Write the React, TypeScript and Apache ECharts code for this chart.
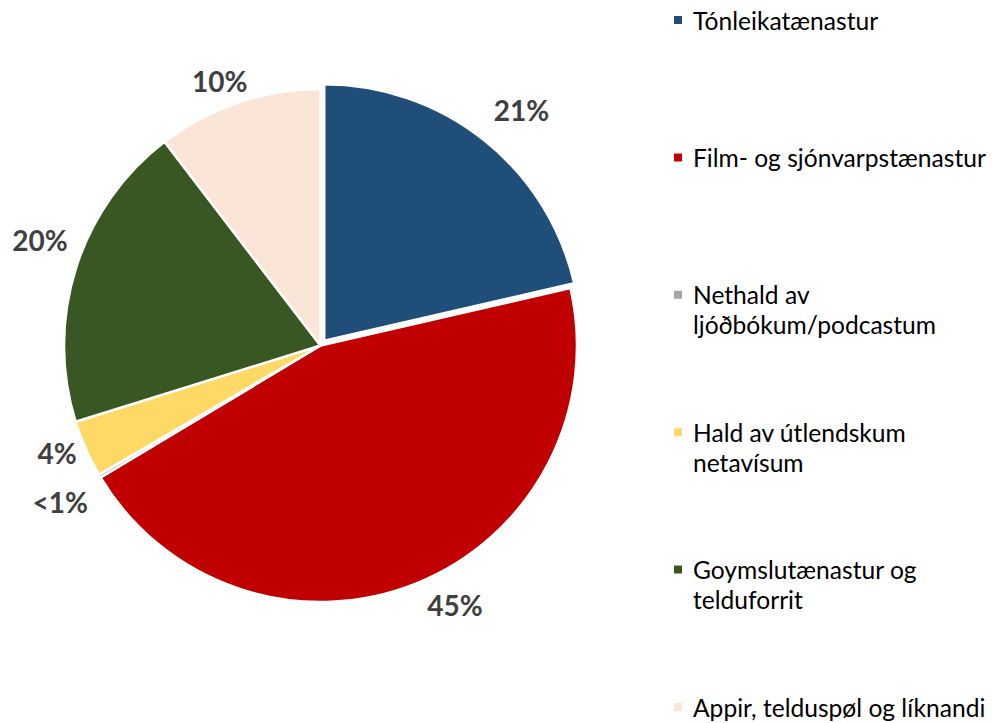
import React, { useEffect, useRef } from "react";
import * as echarts from "echarts";

const categories = [
  "Tónleikatænastur",
  "Film- og sjónvarpstænastur",
  "Nethald av ljóðbókum/podcastum",
  "Hald av útlendskum netavísum",
  "Goymslutænastur og telduforrit",
  "Appir, telduspøl og líknandi",
];
const values = [21.4, 45.0, 0.2, 3.6, 19.4, 10.4];
const pctLabels = ["21%", "45%", "<1%", "4%", "20%", "10%"];
const colors = ["#1f4e79", "#c00000", "#a5a5a5", "#ffd966", "#385723", "#fbe5d6"];
const legendLines: string[][] = [
  ["Tónleikatænastur"],
  ["Film- og sjónvarpstænastur"],
  ["Nethald av", "ljóðbókum/podcastum"],
  ["Hald av útlendskum", "netavísum"],
  ["Goymslutænastur og", "telduforrit"],
  ["Appir, telduspøl og líknandi"],
];
// small label nudges (px) relative to the library's label placement
const labelNudges: [number, number][] = [
  [17, -4],
  [24, -15],
  [-6, 6],
  [7, -12],
  [1, -16],
  [-6, 15],
];

export default function App() {
  const ref = useRef<HTMLDivElement>(null);
  useEffect(() => {
    if (!ref.current) return;
    const chart = echarts.init(ref.current, null, { renderer: "svg" });
    const center = [320.5, 345.5];
    chart.setOption({
      animation: false,
      backgroundColor: "#ffffff",
      legend: {
        orient: "vertical",
        left: 672,
        top: -25,
        height: 900,
        padding: 0,
        itemGap: 47.4,
        itemWidth: 10,
        itemHeight: 10,
        icon: "rect",
        selectedMode: false,
        data: categories,
        formatter: (name: string) => {
          const i = categories.indexOf(name);
          const lines = legendLines[i];
          return "\u00a0\n" + lines[0] + "\n" + (lines[1] ?? "\u00a0");
        },
        textStyle: {
          fontFamily: "Lato",
          fontSize: 24.6,
          lineHeight: 30,
          color: "#000000",
          padding: [0, 0, 0, 5],
        },
      },
      series: [
        {
          type: "pie",
          center,
          radius: 256.5,
          startAngle: 90,
          clockwise: true,
          selectedMode: "single",
          selectedOffset: 6,
          silent: true,
          itemStyle: { borderColor: "#ffffff", borderWidth: 2.5 },
          label: { show: false },
          labelLine: { show: false },
          emphasis: { disabled: true },
          data: categories.map((n, i) => ({
            name: n,
            value: values[i],
            selected: i === 0,
            itemStyle: { color: colors[i] },
          })),
        },
        {
          type: "pie",
          center,
          radius: [279, 306],
          startAngle: 90,
          clockwise: true,
          silent: true,
          itemStyle: { color: "rgba(0,0,0,0)", borderWidth: 0 },
          emphasis: { disabled: true },
          labelLine: { show: false },
          label: {
            show: true,
            position: "inside",
            formatter: (p: any) => pctLabels[p.dataIndex],
            fontFamily: "Lato",
            fontWeight: "bold",
            fontSize: 28,
            color: "#404040",
          },
          labelLayout: (p: any) => ({
            dx: labelNudges[p.dataIndex][0],
            dy: labelNudges[p.dataIndex][1],
          }),
          data: categories.map((n, i) => ({
            name: n,
            value: values[i],
            itemStyle: { color: "rgba(0,0,0,0)" },
          })),
        },
      ],
    });
    return () => chart.dispose();
  }, []);
  return (
    <div
      ref={ref}
      style={{ position: "fixed", left: 0, top: 0, width: 992, height: 723 }}
    />
  );
}
